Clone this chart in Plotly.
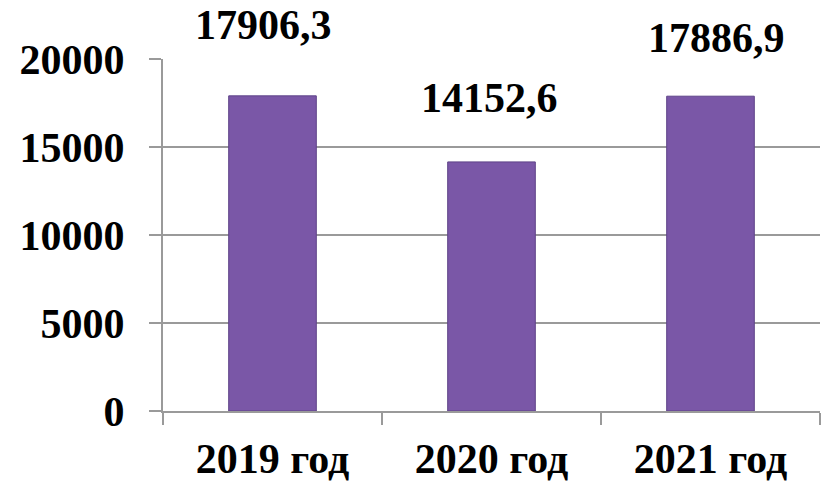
import plotly.graph_objects as go

categories = ["2019 год", "2020 год", "2021 год"]
values = [17906.3, 14152.6, 17886.9]
value_labels = ["17906,3", "14152,6", "17886,9"]
label_yshift = [71, 64, 58]
label_xshift = [-9, -2, 6]
y_ticks = [0, 5000, 10000, 15000, 20000]

FONT = "Liberation Serif"
GRID = "#9a9a9a"
FS = 42

fig = go.Figure()
fig.add_trace(go.Bar(
    x=categories, y=values,
    marker=dict(color="#7a57a7", line=dict(color="#5e4388", width=1)),
    width=0.4,
    hoverinfo="skip",
))

for c, v, t, ys, xs in zip(categories, values, value_labels, label_yshift, label_xshift):
    fig.add_annotation(x=c, y=v, text=f"<b>{t}</b>", showarrow=False,
                       yshift=ys, xshift=xs, yanchor="middle",
                       font=dict(family=FONT, size=FS, color="black"))

# page body has an 8px default margin, so the figure is shrunk to fit the window
fig.update_layout(
    width=821, height=473,
    margin=dict(l=155, r=9, t=51, b=70),
    plot_bgcolor="white", paper_bgcolor="white",
    showlegend=False,
    font=dict(family=FONT, size=FS, color="black"),
)
fig.update_xaxes(
    automargin=False,
    showline=True, linecolor=GRID, linewidth=2,
    ticks="outside", ticklen=12, tickcolor=GRID, tickwidth=2,
    tickson="boundaries",
    tickfont=dict(family=FONT, size=FS, color="black"),
    ticklabelstandoff=10,
    showgrid=False,
    tickvals=categories,
    ticktext=[f"<b>{c}</b>" for c in categories],
)
fig.update_yaxes(
    automargin=False,
    range=[0, 20000], tickvals=y_ticks,
    ticktext=[f"<b>{v}</b>" for v in y_ticks],
    showline=True, linecolor=GRID, linewidth=2,
    ticks="outside", ticklen=12, tickcolor=GRID, tickwidth=2,
    showgrid=True, gridcolor=GRID, gridwidth=2,
    zeroline=False,
    tickfont=dict(family=FONT, size=FS, color="black"),
    ticklabelstandoff=16,
)

fig.write_html("out.html")
